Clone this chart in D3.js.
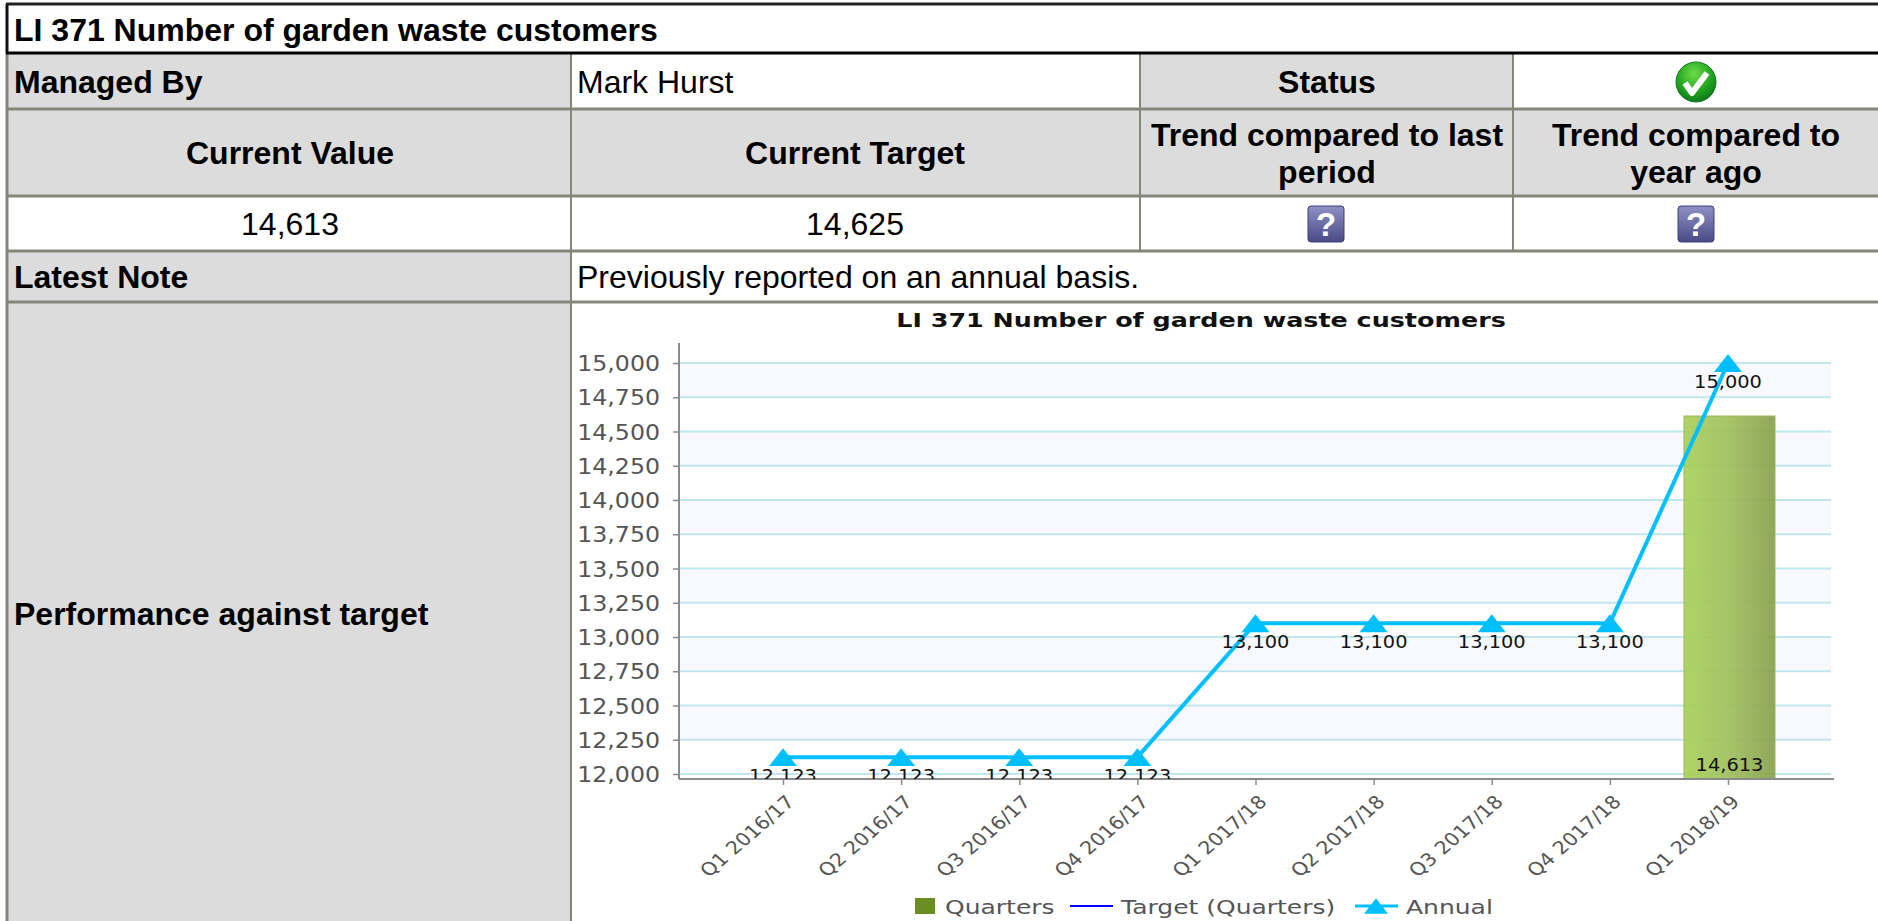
<!DOCTYPE html>
<html><head><meta charset="utf-8">
<script src="https://cdn.jsdelivr.net/npm/d3@7"></script>
<style>html,body{margin:0;padding:0;background:#fff;overflow:hidden}svg{display:block}</style>
</head><body><svg id="c" width="1878" height="921"></svg>
<script>
const categories=["Q1 2016/17","Q2 2016/17","Q3 2016/17","Q4 2016/17","Q1 2017/18","Q2 2017/18","Q3 2017/18","Q4 2017/18","Q1 2018/19"];
const quarters=[null,null,null,null,null,null,null,null,14613];
const targetQuarters=[];
const annual=[12123,12123,12123,12123,13100,13100,13100,13100,15000];
const yTicks=[12000,12250,12500,12750,13000,13250,13500,13750,14000,14250,14500,14750,15000];
const legendLabels=["Quarters","Target (Quarters)","Annual"];
const chartTitle="LI 371 Number of garden waste customers";

const svg=d3.select("#c");
const TF="'Liberation Sans',Arial,sans-serif", CF="'DejaVu Sans',Verdana,sans-serif";
const defs=svg.append("defs");
// ---- table
const colX=[7,571,1140,1513,1878], rowY=[4,53,109,196,251,302,921];
const grey="#dcdcdc", line="#85857a";
function cell(x0,x1,y0,y1,fill){svg.append("rect").attr("x",x0).attr("y",y0).attr("width",x1-x0).attr("height",y1-y0).attr("fill",fill);}
cell(colX[0],colX[1],rowY[1],rowY[3],grey);
cell(colX[0],colX[1],rowY[4],rowY[6],grey);
cell(colX[1],colX[2],rowY[2],rowY[3],grey);
cell(colX[2],colX[3],rowY[1],rowY[3],grey);
cell(colX[3],colX[4],rowY[2],rowY[3],grey);
function hl(x0,x1,y,c,w){svg.append("line").attr("x1",x0).attr("x2",x1).attr("y1",y).attr("y2",y).attr("stroke",c).attr("stroke-width",w);}
function vl(x,y0,y1,c,w){svg.append("line").attr("x1",x).attr("x2",x).attr("y1",y0).attr("y2",y1).attr("stroke",c).attr("stroke-width",w);}
[2,3,4,5].forEach(i=>hl(colX[0],colX[4],rowY[i],line,3));
vl(colX[1],rowY[1],rowY[6],line,2);
vl(colX[2],rowY[1],rowY[4],line,2);
vl(colX[3],rowY[1],rowY[4],line,2);
vl(colX[0],rowY[1],rowY[6],line,3);
vl(colX[0],rowY[0],rowY[1],"#111",3);
hl(colX[0]-1,colX[4],rowY[0],"#222",3);
hl(colX[0]-1,colX[4],rowY[1],"#000",3);
function txt(s,x,y,o={}){
  return svg.append("text").text(s).attr("x",x).attr("y",y)
   .attr("font-family",o.ff||TF).attr("font-size",o.size||32).attr("font-weight",o.bold?"bold":"normal")
   .attr("fill",o.fill||"#000").attr("text-anchor",o.anchor||"start");
}
txt(chartTitle,14,41,{bold:1});
txt("Managed By",14,93,{bold:1});
txt("Mark Hurst",577,93);
txt("Status",1327,93,{bold:1,anchor:"middle"});
txt("Current Value",290,164,{bold:1,anchor:"middle"});
txt("Current Target",855,164,{bold:1,anchor:"middle"});
txt("Trend compared to last",1327,146,{bold:1,anchor:"middle"});
txt("period",1327,183,{bold:1,anchor:"middle"});
txt("Trend compared to",1696,146,{bold:1,anchor:"middle"});
txt("year ago",1696,183,{bold:1,anchor:"middle"});
txt("14,613",290,235,{anchor:"middle"});
txt("14,625",855,235,{anchor:"middle"});
txt("Latest Note",14,288,{bold:1});
txt("Previously reported on an annual basis.",577,288);
txt("Performance against target",14,625,{bold:1});
// icons
const gg=defs.append("radialGradient").attr("id","gg").attr("cx","45%").attr("cy","30%").attr("r","75%");
gg.append("stop").attr("offset","0").attr("stop-color","#6fdc4a");
gg.append("stop").attr("offset","0.6").attr("stop-color","#1fa31f");
gg.append("stop").attr("offset","1").attr("stop-color","#0c6f1c");
const gs=svg.append("g").attr("transform","translate(1696,82)");
gs.append("circle").attr("r",20).attr("fill","url(#gg)").attr("stroke","#0f7a20").attr("stroke-width",1);
gs.append("path").attr("d","M-11,1 L-4,11 L11,-9").attr("fill","none").attr("stroke","#fff").attr("stroke-width",6).attr("stroke-linejoin","round");
const qg=defs.append("linearGradient").attr("id","qg").attr("x1",0).attr("x2",0).attr("y1",0).attr("y2",1);
qg.append("stop").attr("offset","0").attr("stop-color","#8f90c4");
qg.append("stop").attr("offset","1").attr("stop-color","#4a4a88");
[1326,1696].forEach(x=>{
  const g=svg.append("g").attr("transform",`translate(${x},224)`);
  g.append("rect").attr("x",-18).attr("y",-18).attr("width",36).attr("height",36).attr("rx",3).attr("fill","url(#qg)").attr("stroke","#3f3f78");
  g.append("text").text("?").attr("text-anchor","middle").attr("y",12).attr("font-family",TF).attr("font-weight","bold").attr("font-size",33).attr("fill","#fff");
});

// ---- chart
const yBase=779, axisX=679, plotR=1831;
const x=d3.scalePoint().domain(d3.range(categories.length)).range([783,1728]);
const y=d3.scaleLinear().domain([12000,15000]).range([774,363]);
defs.append("clipPath").attr("id","plot").append("rect").attr("x",axisX).attr("y",340).attr("width",plotR-axisX+4).attr("height",yBase-340);
const CS=1.155;
const chart=svg.append("g");
// title
chart.append("text").text(chartTitle).attr("transform",`translate(1201,327) scale(1.27,1)`)
 .attr("text-anchor","middle").attr("font-family",CF).attr("font-weight","bold").attr("font-size",20).attr("fill","#111");
// bands and grid
yTicks.slice(0,-1).forEach((v,i)=>{
  if((yTicks.length-2-i)%2===0) chart.append("rect").attr("x",axisX).attr("width",plotR-axisX).attr("y",y(yTicks[i+1])).attr("height",y(v)-y(yTicks[i+1])).attr("fill","#f8f9fe");
});
chart.selectAll("line.grid").data(yTicks).join("line").attr("class","grid")
 .attr("x1",axisX).attr("x2",plotR).attr("y1",d=>y(d)).attr("y2",d=>y(d)).attr("stroke","#c2e6ee").attr("stroke-width",2);
// bar
const bg=defs.append("linearGradient").attr("id","bar");
bg.append("stop").attr("offset","0").attr("stop-color","#a9d05b");
bg.append("stop").attr("offset","0.5").attr("stop-color","#9fbf5e");
bg.append("stop").attr("offset","1").attr("stop-color","#88a04e");
const barW=91, barOff=1.5;
chart.selectAll("rect.bar").data(quarters.map((v,i)=>({v,i})).filter(d=>d.v!=null)).join("rect").attr("class","bar")
 .attr("x",d=>x(d.i)-barW/2+barOff).attr("width",barW).attr("y",d=>y(d.v)).attr("height",d=>yBase-y(d.v))
 .attr("fill","url(#bar)").attr("fill-opacity",0.93).attr("stroke","#9ab858").attr("stroke-width",1);
// axes
const yAxis=d3.axisLeft(y).tickValues(yTicks).tickFormat(d3.format(",")).tickSize(6).tickSizeOuter(0);
const ya=chart.append("g").attr("transform",`translate(${axisX},0)`).call(yAxis);
ya.select(".domain").attr("d",`M0,343V${yBase}`).attr("stroke","#8a8a8a").attr("stroke-width",2);
ya.selectAll(".tick line").attr("stroke","#8a8a8a").attr("stroke-width",1.5);
ya.selectAll(".tick text").attr("font-family",CF).attr("font-size",20.5).attr("fill","#555")
 .attr("x",0).attr("dy",null).attr("y",0)
 .attr("transform",`translate(-19,7.5) scale(${CS},1)`).attr("text-anchor","end");
const xAxis=d3.axisBottom(x).tickFormat(i=>categories[i]).tickSize(6).tickSizeOuter(0);
const xa=chart.append("g").attr("transform",`translate(0,${yBase})`).call(xAxis);
xa.select(".domain").attr("d",`M${axisX},0H1834`).attr("stroke","#8a8a8a").attr("stroke-width",2);
xa.selectAll(".tick line").attr("stroke","#8a8a8a").attr("stroke-width",1.5);
xa.selectAll(".tick text").attr("font-family",CF).attr("font-size",18).attr("fill","#555")
 .attr("x",0).attr("y",0).attr("dy",null).attr("text-anchor","end")
 .attr("transform",`translate(12,24) scale(${CS},1) rotate(-45)`);
// annual line
const tri={draw(ctx,s){const w=s,h=s*0.64;ctx.moveTo(0,-h/2);ctx.lineTo(w/2,h/2);ctx.lineTo(-w/2,h/2);ctx.closePath();}};
const lineGen=d3.line().x((d,i)=>x(i)).y(d=>y(d));
chart.append("path").attr("d",lineGen(annual)).attr("fill","none").attr("stroke","#00bfff").attr("stroke-width",4);
chart.selectAll("path.pt").data(annual).join("path").attr("class","pt")
 .attr("transform",(d,i)=>`translate(${x(i)},${y(d)})`).attr("d",d3.symbol().type(tri).size(28)()).attr("fill","#00bfff");
// data labels
const lab=chart.append("g").attr("clip-path","url(#plot)");
lab.selectAll("text.a").data(annual).join("text").attr("class","a")
 .text(d=>d3.format(",")(d)).attr("transform",(d,i)=>`translate(${x(i)},${y(d)+25}) scale(1.14,1)`)
 .attr("text-anchor","middle").attr("font-family",CF).attr("font-size",17).attr("fill","#111");
lab.selectAll("text.q").data(quarters.map((v,i)=>({v,i})).filter(d=>d.v!=null)).join("text").attr("class","q")
 .text(d=>d3.format(",")(d.v)).attr("transform",d=>`translate(${x(d.i)+barOff},771) scale(1.14,1)`)
 .attr("text-anchor","middle").attr("font-family",CF).attr("font-size",17).attr("fill","#111");
// legend
const lg=chart.append("g");
const lt=(s,xx)=>lg.append("text").text(s).attr("transform",`translate(${xx},914) scale(1.25,1)`).attr("font-family",CF).attr("font-size",20).attr("fill","#555");
lg.append("rect").attr("x",915).attr("y",898).attr("width",20).attr("height",16).attr("fill","#6b8e23");
lt(legendLabels[0],945);
lg.append("line").attr("x1",1070).attr("x2",1113).attr("y1",906).attr("y2",906).attr("stroke","#0000ff").attr("stroke-width",2);
lt(legendLabels[1],1121);
lg.append("line").attr("x1",1355).attr("x2",1398).attr("y1",906).attr("y2",906).attr("stroke","#00bfff").attr("stroke-width",3);
lg.append("path").attr("transform","translate(1376,906)").attr("d",d3.symbol().type(tri).size(24)()).attr("fill","#00bfff");
lt(legendLabels[2],1406);
</script></body></html>
